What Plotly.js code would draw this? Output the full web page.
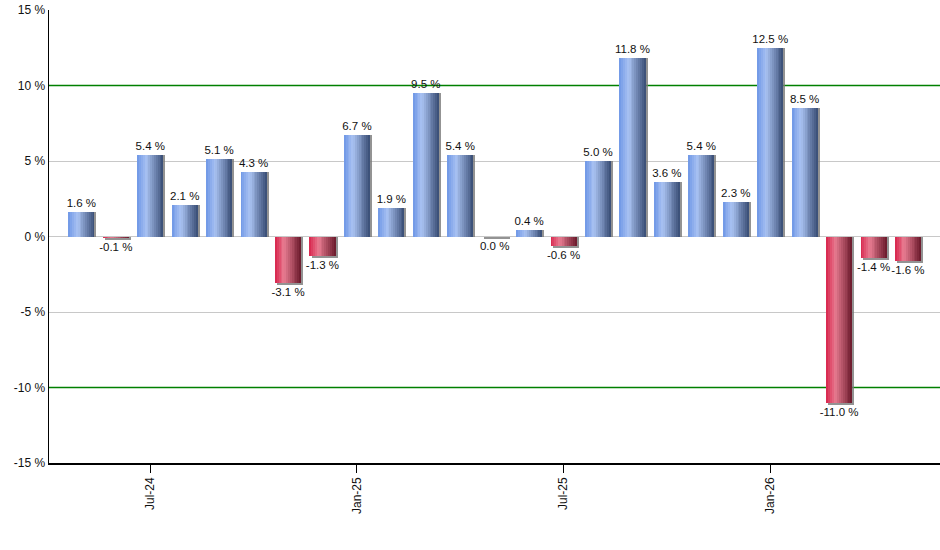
<!DOCTYPE html>
<html>
<head>
<meta charset="utf-8">
<script src="https://cdn.plot.ly/plotly-3.0.1.min.js"></script>
<style>
  html, body { margin: 0; padding: 0; background: #fff; }
  #chart { width: 940px; height: 550px; }
</style>
</head>
<body>
<div id="chart"></div>
<script>
// monthly change, May-24 .. May-26
var months = ['May-24','Jun-24','Jul-24','Aug-24','Sep-24','Oct-24','Nov-24','Dec-24',
              'Jan-25','Feb-25','Mar-25','Apr-25','May-25','Jun-25','Jul-25','Aug-25',
              'Sep-25','Oct-25','Nov-25','Dec-25','Jan-26','Feb-26','Mar-26','Apr-26','May-26'];
var changes = [1.6, -0.1, 5.4, 2.1, 5.1, 4.3, -3.1, -1.3,
               6.7, 1.9, 9.5, 5.4, -0.04, 0.4, -0.6, 5.0,
               11.8, 3.6, 5.4, 2.3, 12.5, 8.5, -11.0, -1.4, -1.6];
var tickMonths = ['Jul-24','Jan-25','Jul-25','Jan-26'];
var yTicks = [-15, -10, -5, 0, 5, 10, 15];
var limits = [10, -10];

function fmt(v){
    var s = v.toFixed(1);
    if (s === '-0.0') s = '0.0';
    return s + ' %';
}

// colour stops across the bar width (left -> right), shading like the original
var blueStops = [[0, [110,150,230]], [0.35, [170,195,242]], [1, [55,75,115]]];
var redStops  = [[0, [215,35,75]], [0.35, [232,125,146]], [1, [105,25,42]]];

function colorAt(stops, t){
    for (var i = 1; i < stops.length; i++){
        if (t <= stops[i][0]){
            var a = stops[i-1], b = stops[i];
            var f = (t - a[0]) / (b[0] - a[0]);
            var c = a[1].map(function(v, k){ return Math.round(v + (b[1][k] - v) * f); });
            return 'rgb(' + c.join(',') + ')';
        }
    }
    return 'rgb(' + stops[stops.length-1][1].join(',') + ')';
}

var xRange = [-0.94, 24.93];
var barW = 0.755;
var nStripes = 14;
var data = [];

// shadow
data.push({
    x: months,
    y: changes.map(function(v){ return v < 0 ? v - 0.13 : v; }),
    type: 'bar', width: barW, offset: -barW/2 + 0.06,
    marker: { color: 'rgba(120,120,120,0.8)' },
    hoverinfo: 'skip', showlegend: false
});

for (var s = 0; s < nStripes; s++){
    var t = (s + 0.5) / nStripes;
    data.push({
        x: months,
        y: changes,
        type: 'bar',
        width: barW / nStripes + 0.002,
        offset: -barW/2 + s * barW / nStripes,
        marker: { color: changes.map(function(v){ return colorAt(v < 0 ? redStops : blueStops, t); }) },
        hoverinfo: 'skip', showlegend: false
    });
}

// labels
data.push({
    x: months,
    y: changes,
    type: 'bar', width: barW, offset: -barW/2,
    marker: { color: 'rgba(0,0,0,0)' },
    text: changes.map(fmt),
    textposition: 'outside',
    constraintext: 'none',
    textfont: { family: 'Liberation Sans, Arial, sans-serif', size: 11.5, color: '#111' },
    cliponaxis: false,
    hovertemplate: '%{x}: %{text}<extra></extra>',
    showlegend: false
});

var layout = {
    width: 940, height: 550,
    margin: { l: 49, r: 0, t: 10, b: 87 },
    barmode: 'overlay',
    bargap: 0,
    paper_bgcolor: '#fff', plot_bgcolor: '#fff',
    font: { family: 'Liberation Sans, Arial, sans-serif', size: 12, color: '#111' },
    xaxis: {
        type: 'category',
        range: xRange,
        tickvals: tickMonths, ticktext: tickMonths,
        tickangle: -90,
        ticks: 'outside', ticklen: 8, tickcolor: '#000',
        showline: true, linecolor: '#000', linewidth: 1.5,
        showgrid: false, zeroline: false,
        tickfont: { size: 12, color: '#111' }
    },
    yaxis: {
        range: [-15, 15],
        tickvals: yTicks,
        ticktext: yTicks.map(function(v){ return v + ' %'; }),
        ticks: '',
        showline: true, linecolor: '#000', linewidth: 1.5,
        gridcolor: '#c8c8c8', gridwidth: 1,
        zeroline: true, zerolinecolor: '#c8c8c8', zerolinewidth: 1,
        tickfont: { size: 12, color: '#111' }
    },
    shapes: limits.map(function(v){
        return { type: 'line', xref: 'x', x0: xRange[0], x1: xRange[1], yref: 'y', y0: v, y1: v,
                 line: { color: '#008000', width: 1.3 }, layer: 'between' };
    })
};

Plotly.newPlot('chart', data, layout, { displayModeBar: false, staticPlot: true });
</script>
</body>
</html>
